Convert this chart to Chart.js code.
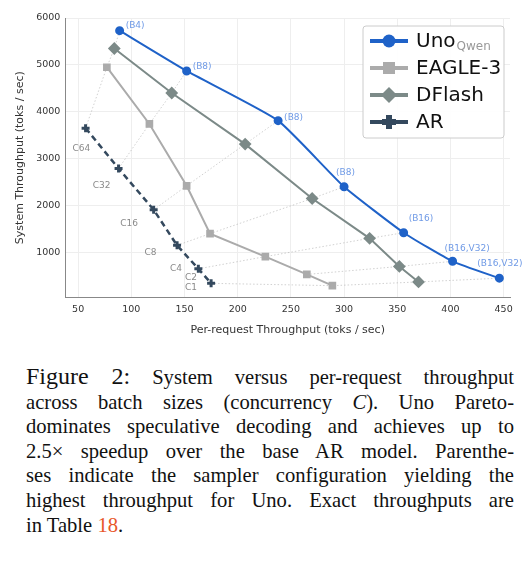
<!DOCTYPE html>
<html><head><meta charset="utf-8">
<script src="https://cdn.jsdelivr.net/npm/chart.js@4.4.0/dist/chart.umd.min.js"></script>
<style>
body{margin:0;background:#fff;width:530px;height:578px;overflow:hidden}
#wrap{position:absolute;left:0;top:0;width:530px;height:345px}
#cap{position:absolute;left:26px;top:364px;width:488px;font-family:"Liberation Serif",serif;font-size:20.6px;line-height:24.6px;color:#111}
#cap div{text-align:justify;text-align-last:justify;white-space:nowrap}
#cap div.last{text-align-last:left}
#cap .fig{font-size:24px}
</style></head><body>
<div id="wrap"><canvas id="c" width="530" height="345"></canvas></div>
<div id="cap">
<div><span class="fig">Figure 2:</span> System versus per-request throughput</div>
<div>across batch sizes (concurrency <i>C</i>). Uno Pareto-</div>
<div>dominates speculative decoding and achieves up to</div>
<div>2.5× speedup over the base AR model. Parenthe-</div>
<div>ses indicate the sampler configuration yielding the</div>
<div>highest throughput for Uno. Exact throughputs are</div>
<div class="last">in Table <span style="color:#e8572a">18</span>.</div>
</div>
<script>
const unoX=[89,152,238,300,356,402,446], unoY=[5730,4870,3810,2400,1420,810,450];
const unoTags=["(B4)","(B8)","(B8)","(B8)","(B16)","(B16,V32)","(B16,V32)"];
const eagleX=[77,117,152,174,226,265,289], eagleY=[4950,3740,2420,1400,910,530,290];
const dflashX=[84,138,207,270,324,352,370], dflashY=[5350,4400,3310,2150,1300,700,370];
const arX=[57,88,121,143,163,null,175], arY=[3650,2790,1910,1150,650,null,340];
const concLabels=["C64","C32","C16","C8","C4","C2","C1"];
const concLabelX=[53,72,98,118,142,156,156], concLabelY=[3220,2430,1610,1000,650,460,250];
const xTicks=[50,100,150,200,250,300,350,400,450], yTicks=[1000,2000,3000,4000,5000,6000];

const pts=(xs,ys)=>xs.map((x,i)=>x==null?null:{x:x,y:ys[i]}).filter(p=>p);
const conc=concLabels.map((c,i)=>({
  type:'line',label:'_'+c,data:[[arX,arY],[eagleX,eagleY],[dflashX,dflashY],[unoX,unoY]].map(([xs,ys])=>xs[i]==null?null:{x:xs[i],y:ys[i]}).filter(p=>p),
  borderColor:'rgba(150,150,150,0.55)',borderWidth:0.8,borderDash:[1.5,2],pointRadius:0,order:10}));

const labelPlugin={id:'lbl',afterDatasetsDraw(ch){
  const ctx=ch.ctx,xs=ch.scales.x,ys=ch.scales.y;
  ctx.save();ctx.font='9px "DejaVu Sans"';ctx.fillStyle='#6f9ae6';
  const off=[[6,-3],[6,-2],[6,-1],[-8,-12],[5,-12],[-8,-10],[-22,-12]];
  unoX.forEach((x,i)=>{ctx.textAlign='left';ctx.fillText(unoTags[i],xs.getPixelForValue(x)+off[i][0],ys.getPixelForValue(unoY[i])+off[i][1]);});
  ctx.fillStyle='#8a8a8a';ctx.textAlign='center';ctx.textBaseline='middle';
  concLabels.forEach((c,i)=>ctx.fillText(c,xs.getPixelForValue(concLabelX[i]),ys.getPixelForValue(concLabelY[i])));
  const L=363,T=26,W=141,H=112;
  ctx.fillStyle='rgba(255,255,255,0.9)';ctx.strokeStyle='#ccc';ctx.lineWidth=1;
  ctx.beginPath();ctx.roundRect(L,T,W,H,3);ctx.fill();ctx.stroke();
  const items=[['Uno','#1f62c8','circle'],['EAGLE-3','#ababab','rect'],['DFlash','#7c8a88','rectRot'],['AR','#34495e','cross']];
  items.forEach((it,k)=>{const y=T+15+k*27;ctx.strokeStyle=it[1];ctx.fillStyle=it[1];ctx.lineWidth=4;
    ctx.beginPath();ctx.moveTo(L+7,y);ctx.lineTo(L+45,y);ctx.stroke();
    ctx.beginPath();
    if(it[2]=='circle'){ctx.arc(L+26,y,6.5,0,7);ctx.fill();}
    else if(it[2]=='rect'){ctx.fillRect(L+20,y-6,12,12);}
    else if(it[2]=='rectRot'){ctx.moveTo(L+26,y-8);ctx.lineTo(L+34,y);ctx.lineTo(L+26,y+8);ctx.lineTo(L+18,y);ctx.fill();}
    else {ctx.fillRect(L+23,y-7,6,14);ctx.fillRect(L+19,y-3,14,6);}
    ctx.fillStyle='#111';ctx.textAlign='left';ctx.font='20px "DejaVu Sans"';ctx.fillText(it[0],L+53,y+1);
  });
  ctx.font='20px "DejaVu Sans"';const w=ctx.measureText('Uno').width;
  ctx.font='12px "DejaVu Sans"';ctx.fillStyle='#999';ctx.fillText('Qwen',L+53+w+1,T+15+6);
  ctx.restore();
}};

new Chart(document.getElementById('c'),{
  data:{datasets:[
    ...conc,
    {type:'line',label:'Uno',data:pts(unoX,unoY),borderColor:'#1f62c8',backgroundColor:'#1f62c8',borderWidth:2,pointRadius:3.5,pointStyle:'circle',tension:0.15,order:1},
    {type:'line',label:'EAGLE-3',data:pts(eagleX,eagleY),borderColor:'#ababab',backgroundColor:'#ababab',borderWidth:2,pointRadius:4,pointStyle:'rect',order:3},
    {type:'line',label:'DFlash',data:pts(dflashX,dflashY),borderColor:'#7c8a88',backgroundColor:'#7c8a88',borderWidth:2,pointRadius:5,pointStyle:'rectRot',order:2},
    {type:'line',label:'AR',data:pts(arX,arY),borderColor:'#34495e',backgroundColor:'#34495e',borderWidth:2.5,borderDash:[6,4],pointRadius:4,pointStyle:'cross',pointBorderWidth:3,order:4},
  ]},
  options:{responsive:false,animation:false,
    layout:{padding:{left:10,right:20,top:18,bottom:4}},
    plugins:{legend:{display:false},tooltip:{enabled:false}},
    scales:{
      x:{type:'linear',min:38,max:456,afterBuildTicks:a=>{a.ticks=xTicks.map(v=>({value:v}))},
        grid:{color:'#eeeeee',drawTicks:false},border:{color:'#888',width:1},
        ticks:{color:'#333',font:{size:9.5,family:'DejaVu Sans'},padding:6,callback:v=>String(v)},
        title:{display:true,text:'Per-request Throughput (toks / sec)',color:'#333',font:{size:11,family:'DejaVu Sans'},padding:{top:3}}},
      y:{min:40,max:6000,afterBuildTicks:a=>{a.ticks=yTicks.map(v=>({value:v}))},
        grid:{color:'#eeeeee',drawTicks:false},border:{color:'#888',width:1},
        ticks:{color:'#333',font:{size:9.5,family:'DejaVu Sans'},padding:5,callback:v=>String(v)},
        title:{display:true,text:'System Throughput (toks / sec)',color:'#333',font:{size:11,family:'DejaVu Sans'}}}
    }},
  plugins:[labelPlugin]
});
</script></body></html>
